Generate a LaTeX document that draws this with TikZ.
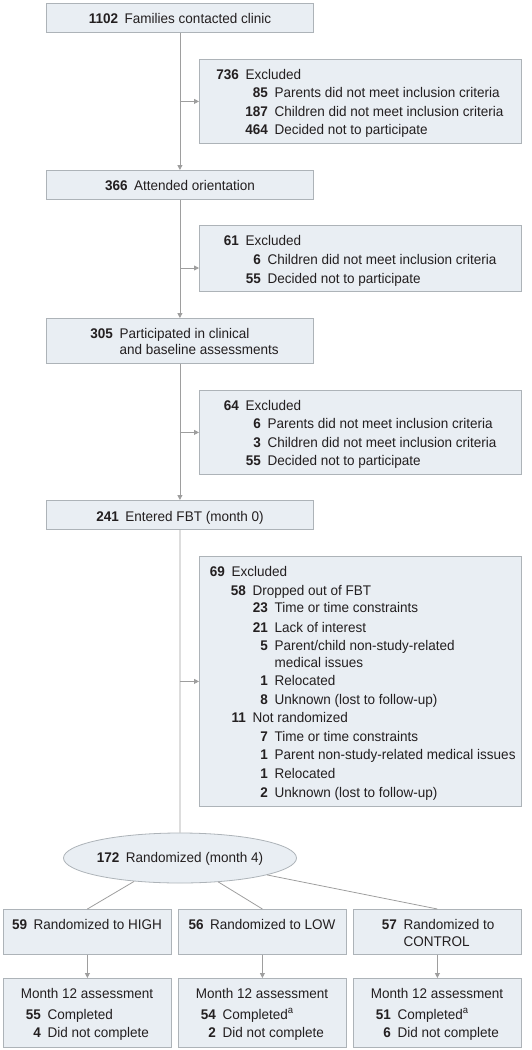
\documentclass[tikz,border=0pt]{standalone}
\usepackage{fontspec}
\setmainfont{Liberation Sans}[FakeStretch=0.965]
\usetikzlibrary{arrows.meta,shapes.geometric}
\definecolor{boxfill}{HTML}{E9EEF3}
\definecolor{boxdraw}{HTML}{ADB3B8}
\definecolor{linec}{HTML}{9E9E9E}
\definecolor{txt}{HTML}{231F20}
\newcommand\nrow[5]{%
  \node[txtnode, anchor=base east] (#1n) at (#2,#3) {\textbf{#4}};
  \node[txtnode, anchor=base west] (#1t) at (#2+6.5,#3) {#5};}
\newcommand\trow[4]{%
  \node[txtnode, anchor=base west] (#1t) at (#2+6.5,#3) {#4};}
\begin{document}
\begin{tikzpicture}[x=1pt,y=-1pt,
  font=\fontsize{14}{16}\selectfont, text=txt,
  box/.style={draw=boxdraw, fill=boxfill, line width=0.8pt, inner sep=0pt, anchor=north west},
  txtnode/.style={inner sep=0pt, outer sep=0pt},
  link/.style={draw=linec, line width=0.8pt},
  arr/.style={link, -{Triangle[length=5pt,width=5pt]}}]
\useasboundingbox (0,0) rectangle (531,1050);
% boxes
\node[box, minimum width=267pt, minimum height=29pt] (b1) at (46,3) {};
\node[box, minimum width=322pt, minimum height=84pt] (e1) at (199,59) {};
\node[box, minimum width=267pt, minimum height=29pt] (b2) at (46,170) {};
\node[box, minimum width=322pt, minimum height=66pt] (e2) at (199,225) {};
\node[box, minimum width=267pt, minimum height=45pt] (b3) at (46,318) {};
\node[box, minimum width=322pt, minimum height=84pt] (e3) at (199,390) {};
\node[box, minimum width=267pt, minimum height=29pt] (b4) at (46,500) {};
\node[box, minimum width=322pt, minimum height=250pt] (e4) at (199,556) {};
\node[ellipse, draw=boxdraw, fill=boxfill, line width=0.8pt, minimum width=233pt, minimum height=50pt, inner sep=0pt] (r) at (180,858) {};
\node[box, minimum width=168pt, minimum height=45pt] (g1) at (3,909) {};
\node[box, minimum width=168pt, minimum height=45pt] (g2) at (178,909) {};
\node[box, minimum width=168pt, minimum height=45pt] (g3) at (353,909) {};
\node[box, minimum width=168pt, minimum height=69pt] (m1) at (3,978) {};
\node[box, minimum width=168pt, minimum height=69pt] (m2) at (178,978) {};
\node[box, minimum width=168pt, minimum height=69pt] (m3) at (353,978) {};
% connectors
\coordinate (a1) at (b1.south |- e1.west);
\coordinate (a2) at (180,268);
\coordinate (a3) at (b1.south |- e3.west);
\coordinate (a4) at (b1.south |- e4.west);
\draw[arr] (b1.south) -- (b2.north);
\draw[arr] (a1) -- (e1.west);
\draw[arr] (b2.south) -- (b3.north);
\draw[arr] (a2) -- (a2 -| e2.west);
\draw[arr] (b3.south) -- (b4.north);
\draw[arr] (a3) -- (e3.west);
\draw[link] (b4.south) -- (r.north);
\draw[arr] (a4) -- (e4.west);
\draw[link] (r.207) -- (g1.north);
\draw[link] (r.328) -- (g2.north);
\draw[link] (r.349) -- (g3.north);
\draw[arr] (g1.south) -- (m1.north);
\draw[arr] (g2.south) -- (m2.north);
\draw[arr] (g3.south) -- (m3.north);
% texts
\node[txtnode, anchor=base] (t1) at (180,23) {\textbf{1102}\hspace{6.5pt}Families contacted clinic};
\nrow{x1a}{239}{79}{736}{Excluded}
\nrow{x1b}{268}{97}{85}{Parents did not meet inclusion criteria}
\nrow{x1c}{268}{116}{187}{Children did not meet inclusion criteria}
\nrow{x1d}{268}{134}{464}{Decided not to participate}
\node[txtnode, anchor=base] (t2) at (180,190) {\textbf{366}\hspace{6.5pt}Attended orientation};
\nrow{x2a}{239}{245}{61}{Excluded}
\nrow{x2b}{261}{264}{6}{Children did not meet inclusion criteria}
\nrow{x2c}{261}{283}{55}{Decided not to participate}
\nrow{t3a}{113}{338}{305}{Participated in clinical}
\trow{t3b}{113}{354}{and baseline assessments}
\nrow{x3a}{239}{410}{64}{Excluded}
\nrow{x3b}{261}{428}{6}{Parents did not meet inclusion criteria}
\nrow{x3c}{261}{447}{3}{Children did not meet inclusion criteria}
\nrow{x3d}{261}{465}{55}{Decided not to participate}
\node[txtnode, anchor=base] (t4) at (180,521) {\textbf{241}\hspace{6.5pt}Entered FBT (month 0)};
\nrow{x4a}{225}{576}{69}{Excluded}
\nrow{x4b}{246}{595}{58}{Dropped out of FBT}
\nrow{x4c}{268}{612}{23}{Time or time constraints}
\nrow{x4d}{268}{632}{21}{Lack of interest}
\nrow{x4e}{268}{650}{5}{Parent/child non-study-related}
\trow{x4f}{268}{667}{medical issues}
\nrow{x4g}{268}{685}{1}{Relocated}
\nrow{x4h}{268}{704}{8}{Unknown (lost to follow-up)}
\nrow{x4i}{246}{722}{11}{Not randomized}
\nrow{x4j}{268}{741}{7}{Time or time constraints}
\nrow{x4k}{268}{759}{1}{Parent non-study-related medical issues}
\nrow{x4l}{268}{778}{1}{Relocated}
\nrow{x4m}{268}{797}{2}{Unknown (lost to follow-up)}
\node[txtnode, anchor=base] (t5) at (180,862) {\textbf{172}\hspace{6.5pt}Randomized (month 4)};
\node[txtnode, anchor=base] (g1t) at (87,929) {\textbf{59}\hspace{6.5pt}Randomized to HIGH};
\node[txtnode, anchor=base] (g2t) at (262,929) {\textbf{56}\hspace{6.5pt}Randomized to LOW};
\nrow{g3a}{397}{929}{57}{Randomized to}
\trow{g3b}{397}{946}{CONTROL}
\node[txtnode, anchor=base] (m1t) at (87,998) {Month 12 assessment};
\nrow{m1a}{41}{1019}{55}{Completed}
\nrow{m1b}{41}{1037}{4}{Did not complete}
\node[txtnode, anchor=base] (m2t) at (262,998) {Month 12 assessment};
\nrow{m2a}{216}{1019}{54}{Completed\textsuperscript{a}}
\nrow{m2b}{216}{1037}{2}{Did not complete}
\node[txtnode, anchor=base] (m3t) at (437,998) {Month 12 assessment};
\nrow{m3a}{391}{1019}{51}{Completed\textsuperscript{a}}
\nrow{m3b}{391}{1037}{6}{Did not complete}
\end{tikzpicture}
\end{document}
